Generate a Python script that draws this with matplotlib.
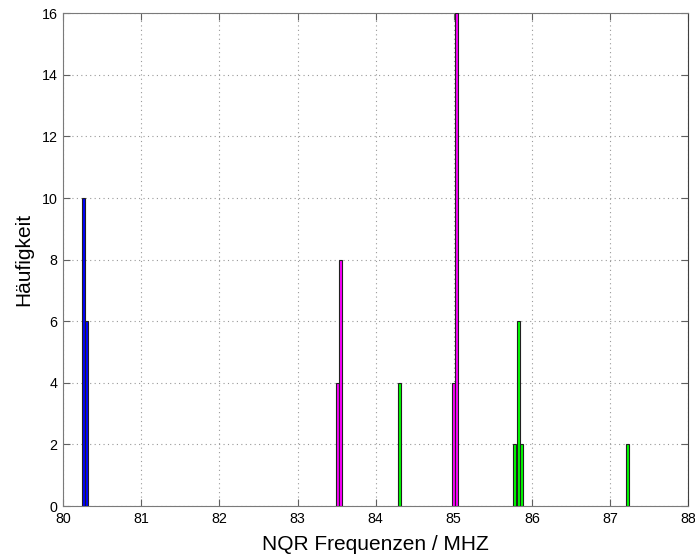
import matplotlib
matplotlib.use("Agg")
import matplotlib.pyplot as plt

plt.rcParams["font.family"] = ["Liberation Sans", "DejaVu Sans"]

# histogram bins (centre frequency in MHz) and counts per line group
bin_width = 0.04

blue_freq = [80.258, 80.303]
blue_count = [10, 6]

magenta_freq = [83.510, 83.550, 84.994, 85.033]
magenta_count = [4, 8, 4, 16]

green_freq = [84.305, 85.781, 85.825, 85.864, 87.228]
green_count = [4, 2, 6, 2, 2]

xticks = [80, 81, 82, 83, 84, 85, 86, 87, 88]
yticks = [0, 2, 4, 6, 8, 10, 12, 14, 16]

fig = plt.figure(figsize=(6.95, 5.59), dpi=100)
ax = fig.add_axes([0.091, 0.0948, 0.899, 0.8814])

for freq, cnt, col in [(blue_freq, blue_count, "#0000ff"),
                       (magenta_freq, magenta_count, "#ff00ff"),
                       (green_freq, green_count, "#00ff00")]:
    ax.bar(freq, cnt, width=bin_width, color=col, edgecolor="#202020",
           linewidth=0.8, zorder=3)

ax.set_xlim(80, 88)
ax.set_ylim(0, 16)
ax.set_xticks(xticks)
ax.set_yticks(yticks)
ax.tick_params(direction="in", top=True, right=True, length=5,
               labelsize=10.3, color="#606060", pad=4)
ax.grid(True, linestyle=(0, (1, 3)), color="#999999", linewidth=0.8, zorder=0)

for side in ["left", "bottom", "top"]:
    ax.spines[side].set_color("#7a7a7a")
ax.spines["right"].set_color("#404040")

ax.set_xlabel("NQR Frequenzen / MHZ", fontsize=15, labelpad=7)
ax.set_ylabel("Häufigkeit", fontsize=15, labelpad=6)

fig.savefig("out.png", dpi=100)
